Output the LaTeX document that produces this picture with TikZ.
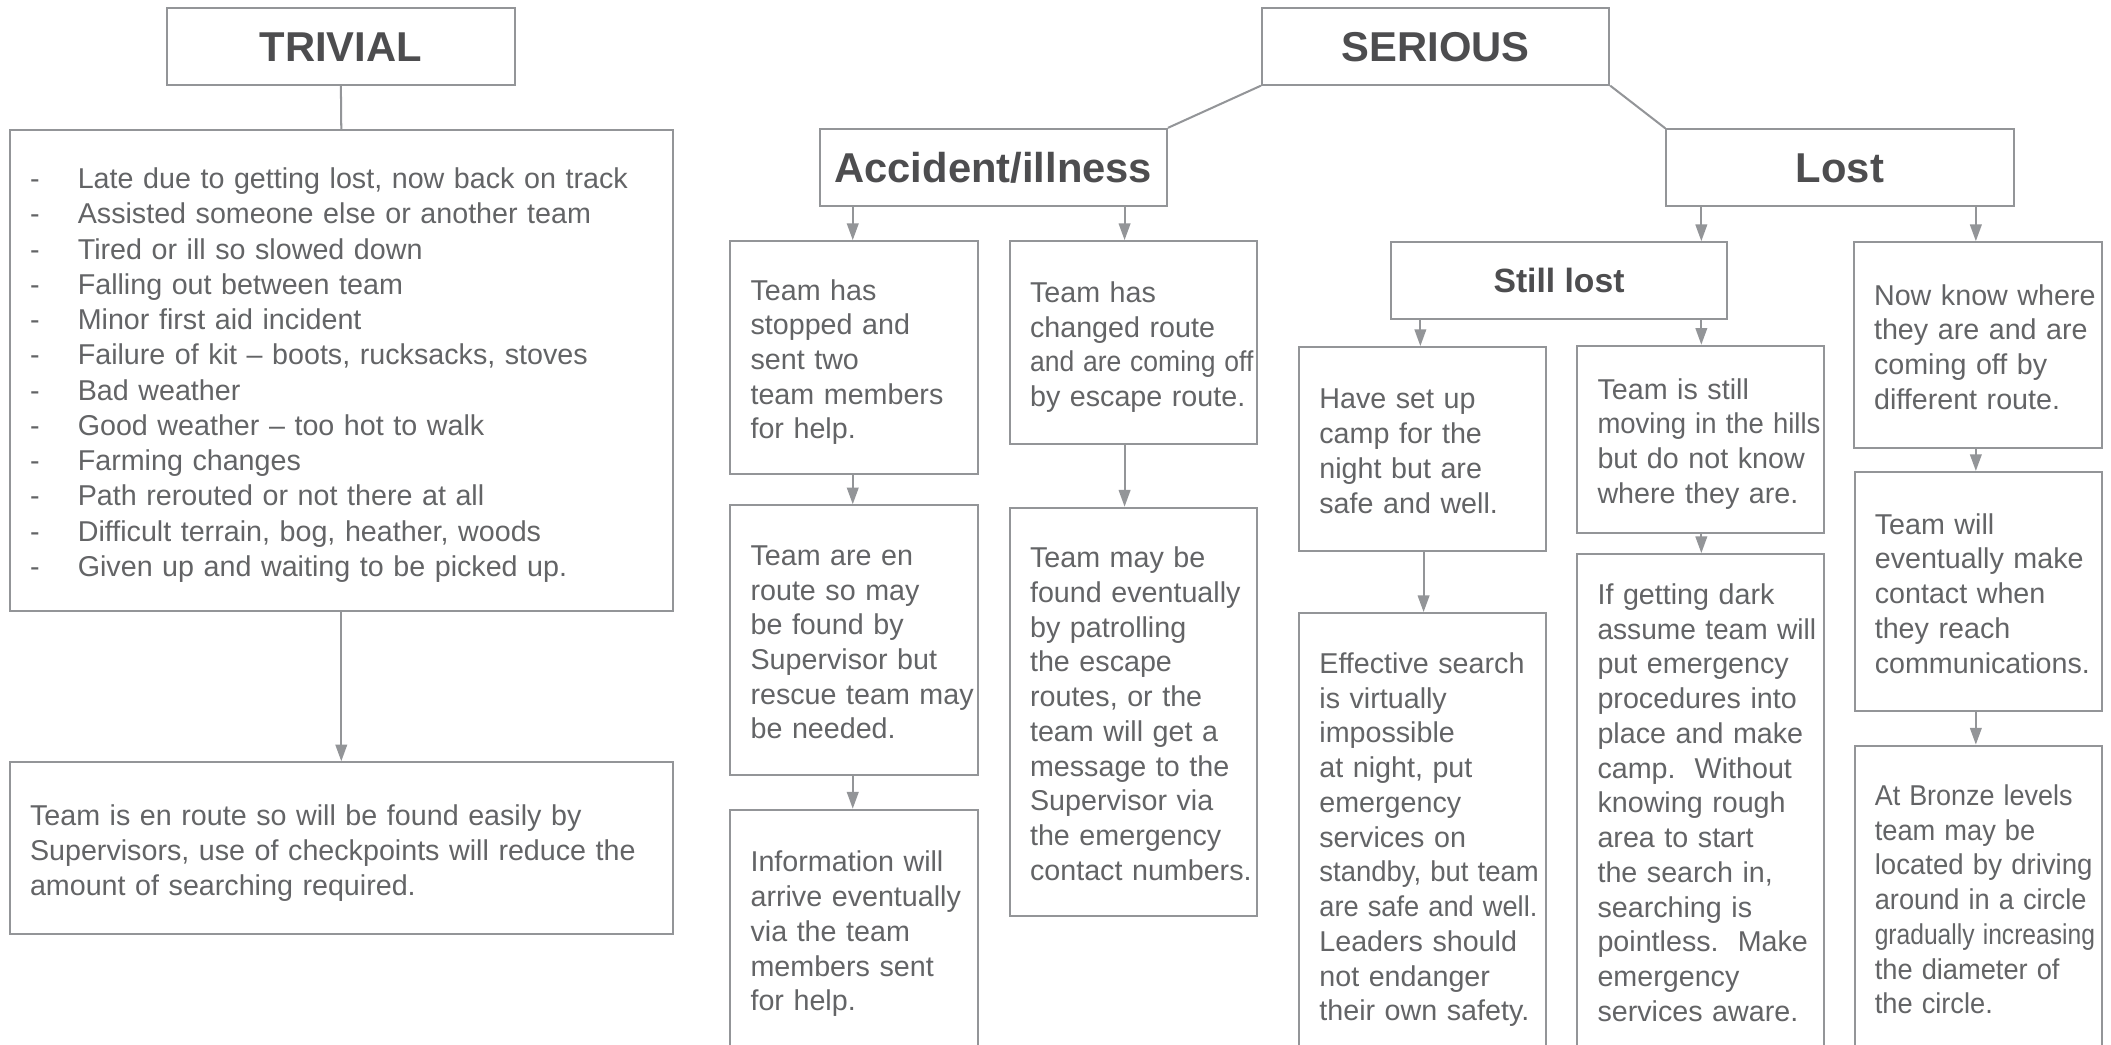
\documentclass[tikz,border=0pt]{standalone}
\usepackage{fontspec}
\usepackage{graphicx}
\setmainfont{Liberation Sans}
\usetikzlibrary{arrows.meta}
\definecolor{bordergray}{HTML}{939598}
\definecolor{textgray}{HTML}{636466}
\definecolor{headgray}{HTML}{4D4D4F}
\newcommand{\sqz}[2]{\scalebox{#1}[1]{#2}}
\newcommand{\dashitem}{\makebox[35.5pt][l]{-}}
\begin{document}
\begin{tikzpicture}[x=1pt,y=-1pt,
  box/.style={draw=bordergray, line width=1.5pt, rectangle, inner xsep=0pt, inner ysep=0pt,
    align=left, text=textgray, font=\fontsize{21.3}{25.8}\selectfont, anchor=center,
    execute at begin node={\leftskip=15pt\rule{0pt}{23pt}},
    execute at end node={\rule[-5pt]{0pt}{5pt}}},
  head/.style={draw=bordergray, line width=1.5pt, rectangle, inner sep=0pt, text=headgray,
    font=\fontsize{31}{36}\selectfont\bfseries, text height=22.2pt, text depth=0pt,
    minimum width=258pt, minimum height=57pt},
  conn/.style={draw=bordergray, line width=1.5pt},
  arr/.style={conn, -{Triangle[length=12.4pt,width=8.6pt]}},
]
\useasboundingbox (0,0) rectangle (1568,776.2);
\fill[white] (0,0) rectangle (1568,776.2);
\clip (0,0) rectangle (1568,776.2);

% ---------- TRIVIAL ----------
\node[head] (thead) at (253.2,34.4) {TRIVIAL};
\node[box, text width=492.4pt, minimum height=357.2pt, font=\fontsize{21.3}{26.2}\selectfont] (tlist) at (253.5,275.1)
 {\dashitem Late due to getting lost, now back on track\\
  \dashitem Assisted someone else or another team\\
  \dashitem Tired or ill so slowed down\\
  \dashitem Falling out between team\\
  \dashitem Minor first aid incident\\
  \dashitem Failure of kit -- boots, rucksacks, stoves\\
  \dashitem Bad weather\\
  \dashitem Good weather -- too hot to walk\\
  \dashitem Farming changes\\
  \dashitem Path rerouted or not there at all\\
  \dashitem Difficult terrain, bog, heather, woods\\
  \dashitem Given up and waiting to be picked up.};
\node[box, text width=492.4pt, minimum height=127.8pt, font=\fontsize{21.3}{26}\selectfont] (tbot) at (253.5,630.1)
 {Team is en route so will be found easily by\\
  Supervisors, use of checkpoints will reduce the\\
  amount of searching required.};
\draw[conn] (thead.south) -- (tlist.north);
\draw[arr] (tlist.south) -- (tbot.north);

% ---------- SERIOUS ----------
\node[head] (serious) at (1066.3,34.4) {SERIOUS};
\node[head] (acc) at (737.8,124.2) {Accident/illness};
\node[head] (lost) at (1366.6,124.5) {Lost};
\node[head, minimum width=249.2pt, font=\fontsize{25}{30}\selectfont\bfseries, text height=17.9pt] (still) at (1158,208.4) {Still lost};
\draw[conn] (serious.south west) -- (acc.north east);
\draw[conn] (serious.south east) -- (lost.north west);

% accident branch
\node[box, text width=183.7pt, minimum height=172.7pt] (A1) at (634.35,265.45)
 {Team has\\stopped and\\sent two\\team members\\for help.};
\node[box, text width=183.3pt, minimum height=150.5pt] (A2) at (841.75,254.35)
 {Team has\\changed route\\\sqz{0.924}{and are coming off}\\by escape route.};
\node[box, text width=183.7pt, minimum height=200.2pt] (A3) at (634.35,475.4)
 {Team are en\\route so may\\be found by\\Supervisor but\\rescue team may\\be needed.};
\node[box, text width=183.3pt, minimum height=303.3pt] (A4) at (841.75,528.75)
 {Team may be\\found eventually\\by patrolling\\the escape\\routes, or the\\team will get a\\message to the\\Supervisor via\\the emergency\\contact numbers.};
\node[box, text width=183.7pt, minimum height=177.6pt] (A5) at (634.35,690.2)
 {Information will\\arrive eventually\\via the team\\members sent\\for help.};

\coordinate (xa1) at (633.4,0);
\coordinate (xa2) at (835.3,0);
\draw[arr] (acc.south -| xa1) -- (A1.north -| xa1);
\draw[arr] (acc.south -| xa2) -- (A2.north -| xa2);
\draw[arr] (A1.south -| xa1) -- (A3.north -| xa1);
\draw[arr] (A3.south -| xa1) -- (A5.north -| xa1);
\draw[arr] (A2.south -| xa2) -- (A4.north -| xa2);

% lost branch
\node[box, text width=183.4pt, minimum height=151.2pt] (C1) at (1056.7,333.4)
 {Have set up\\camp for the\\night but are\\safe and well.};
\node[box, text width=183.4pt, minimum height=329.6pt] (C2) at (1056.7,620.2)
 {Effective search\\is virtually\\impossible\\at night, put\\emergency\\services on\\\sqz{0.958}{standby, but team}\\\sqz{0.95}{are safe and well.}\\Leaders should\\not endanger\\their own safety.};
\node[box, text width=183.4pt, minimum height=138.9pt] (D1) at (1263.3,326.25)
 {Team is still\\\sqz{0.958}{moving in the hills}\\but do not know\\where they are.};
\node[box, text width=183.4pt, minimum height=366.4pt] (D2) at (1263.3,594.8)
 {If getting dark\\\sqz{0.98}{assume team will}\\put emergency\\procedures into\\place and make\\camp.\ \ Without\\knowing rough\\area to start\\the search in,\\searching is\\pointless.\ \ Make\\emergency\\services aware.};
\node[box, text width=184pt, minimum height=153pt] (E1) at (1469,256.4)
 {Now know where\\they are and are\\coming off by\\different route.};
\node[box, text width=183.9pt, minimum height=177.4pt] (E2) at (1469.5,439.3)
 {Team will\\eventually make\\contact when\\they reach\\communications.};
\node[box, text width=183.9pt, minimum height=225.7pt] (E3) at (1469.5,666.65)
 {\sqz{0.94}{At Bronze levels}\\\sqz{0.95}{team may be}\\\sqz{0.962}{located by driving}\\\sqz{0.949}{around in a circle}\\\sqz{0.858}{gradually increasing}\\\sqz{0.95}{the diameter of}\\\sqz{0.95}{the circle.}};

\coordinate (xl1) at (1263.7,0);
\coordinate (xl2) at (1467.6,0);
\coordinate (xs1) at (1055,0);
\coordinate (xc) at (1057.4,0);
\draw[arr] (lost.south -| xl1) -- (still.north -| xl1);
\draw[arr] (lost.south -| xl2) -- (E1.north -| xl2);
\draw[arr] (still.south -| xs1) -- (C1.north -| xs1);
\draw[arr] (still.south -| xl1) -- (D1.north -| xl1);
\draw[arr] (C1.south -| xc) -- (C2.north -| xc);
\draw[arr] (D1.south -| xl1) -- (D2.north -| xl1);
\draw[arr] (E1.south -| xl2) -- (E2.north -| xl2);
\draw[arr] (E2.south -| xl2) -- (E3.north -| xl2);
\end{tikzpicture}
\end{document}
